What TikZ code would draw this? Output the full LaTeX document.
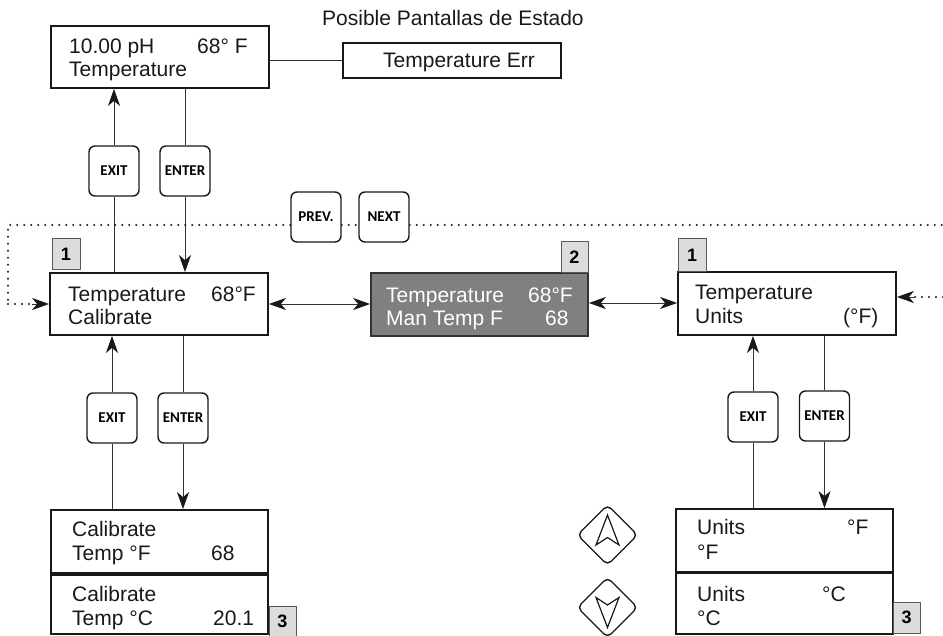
\documentclass[tikz,border=0pt]{standalone}
\usepackage{fontspec}
\setmainfont{Liberation Sans}
\newfontfamily\keyfont{Carlito}
\usetikzlibrary{arrows.meta,backgrounds}
\definecolor{darkfill}{HTML}{808080}
\definecolor{badgefill}{HTML}{DCDCDC}
\begin{document}
\begin{tikzpicture}[x=1pt,y=-1pt,
  scr/.style={draw=black!90, line width=1.8pt, fill=white, inner sep=0pt, minimum width=218pt, minimum height=62pt},
  darkscr/.style={scr, fill=darkfill, draw=black!80},
  badge/.style={draw=black!65, line width=1pt, fill=badgefill, inner sep=0pt, minimum width=27pt, minimum height=31pt, font=\bfseries\fontsize{18}{18}\selectfont},
  key/.style={draw=black!90, rounded corners=6pt, fill=white, minimum width=50pt, minimum height=50pt, line width=1.4pt, inner sep=0pt, font=\keyfont\bfseries\fontsize{15}{15}\selectfont},
  txt/.style={anchor=base west, inner sep=0pt, font=\fontsize{21}{23}\selectfont, text=black!90},
  wtxt/.style={txt, text=white},
  conn/.style={draw=black!80, line width=0.9pt},
  tipstyle/.style={Stealth[length=17pt,width=12pt,inset=5pt,color=black!90]},
  arr/.style={conn, -{Stealth[length=17pt,width=12pt,inset=5pt,color=black!90]}},
  darr/.style={conn, {Stealth[length=17pt,width=12pt,inset=5pt,color=black!90]}-{Stealth[length=17pt,width=12pt,inset=5pt,color=black!90]}},
  dotline/.style={draw=black!90, line width=2.2pt, dash pattern=on 0pt off 7pt, line cap=round},
  dia/.style={draw=black!90, line width=1.4pt, rounded corners=5pt},
  inarrow/.style={draw=black!90, line width=1.2pt, line join=miter}
]
\useasboundingbox (0,0) rectangle (943,636);

% title
\node[txt] (title) at (322,26) {Posible Pantallas de Estado};

% screens
\node[scr] (top) at (160,57) {};
\node[scr, minimum height=35pt] (err) at (452,60.5) {};
\node[scr] (calib) at (159,304) {};
\node[darkscr, minimum width=217pt, minimum height=63pt] (man) at (479.5,304.5) {};
\node[scr, minimum height=63pt] (units) at (787,303.5) {};
\node[scr, minimum width=217pt, minimum height=63pt] (calF) at (159.5,541.5) {};
\node[scr, minimum width=217pt, minimum height=59pt] (calC) at (159.5,604.5) {};
\node[scr, minimum width=217pt, minimum height=63pt] (unF) at (784.5,540.5) {};
\node[scr, minimum width=217pt, minimum height=61pt] (unC) at (784.5,603.5) {};

% badges
\node[badge, minimum width=28pt] (b1L) at (66,254.5) {1};
\node[badge] (b2) at (574.5,257.5) {2};
\node[badge, minimum width=28pt, minimum height=33pt] (b1R) at (692,255.5) {1};
\node[badge, minimum height=30pt] (b3L) at (282.5,621) {3};
\node[badge] (b3R) at (906.5,617.5) {3};

% keys
\node[key] (exitT) at (114,171) {EXIT};
\node[key] (enterT) at (185,171) {ENTER};
\node[key] (prev) at (316,217) {PREV.};
\node[key] (next) at (384,217) {NEXT};
\node[key] (exitB) at (112,418) {EXIT};
\node[key] (enterB) at (183,418) {ENTER};
\node[key] (exitR) at (753,417) {EXIT};
\node[key] (enterR) at (824.5,416) {ENTER};

% texts
\node[txt] (t1) at (69,54) {10.00 pH};
\node[txt] (t2) at (197,54) {68° F};
\node[txt] (t3) at (69,77) {Temperature};
\node[txt] (t4) at (383,68) {Temperature Err};
\node[txt] (t5) at (68,302) {Temperature};
\node[txt] (t6) at (211,302) {68°F};
\node[txt] (t7) at (68,325) {Calibrate};
\node[wtxt] (t8) at (386,303) {Temperature};
\node[wtxt] (t9) at (528,303) {68°F};
\node[wtxt] (t10) at (386,326) {Man Temp F};
\node[wtxt] (t11) at (545,326) {68};
\node[txt] (t12) at (695,300) {Temperature};
\node[txt] (t13) at (695,324) {Units};
\node[txt] (t14) at (843,324) {(°F)};
\node[txt] (t15) at (72,536) {Calibrate};
\node[txt] (t16) at (72,560) {Temp °F};
\node[txt] (t17) at (211,560) {68};
\node[txt] (t18) at (72,601) {Calibrate};
\node[txt] (t19) at (72,625) {Temp °C};
\node[txt] (t20) at (213,625) {20.1};
\node[txt] (t21) at (697,534) {Units};
\node[txt] (t22) at (847,534) {°F};
\node[txt] (t23) at (697,559) {°F};
\node[txt] (t24) at (697,601) {Units};
\node[txt] (t25) at (822,601) {°C};
\node[txt] (t26) at (697,625) {°C};

% free ends of the dotted loop
\coordinate (dl) at (8,225);
\coordinate (dr) at (943,225);
\coordinate (dr2) at (943,297);

% up / down diamonds
\draw[dia] (607.5,505) -- (637.5,535) -- (607.5,565) -- (577.5,535) -- cycle;
\draw[inarrow] (607.5,515) -- (619,545) -- (607.5,537.5) -- (596,545) -- cycle;
\draw[dia] (607.5,577.5) -- (637.5,607.5) -- (607.5,637.5) -- (577.5,607.5) -- cycle;
\draw[inarrow] (607.5,627.5) -- (619,597.5) -- (607.5,605) -- (596,597.5) -- cycle;

\begin{scope}[on background layer]
  % top box to error box
  \draw[conn] (err.west -| top.east) -- (err.west);
  % top EXIT / ENTER
  \draw[conn] (calib.north -| exitT.center) -- (exitT.south);
  \draw[arr] (exitT.north) -- (top.south -| exitT.center);
  \draw[conn] ([yshift=6pt]top.south -| enterT.center) -- (enterT.north);
  \draw[arr] (enterT.south) -- (calib.north -| enterT.center);
  % lower-left EXIT / ENTER
  \draw[conn] (calF.north -| exitB.center) -- (exitB.south);
  \draw[arr] (exitB.north) -- (calib.south -| exitB.center);
  \draw[conn] ([yshift=4pt]calib.south -| enterB.center) -- (enterB.north);
  \draw[arr] (enterB.south) -- (calF.north -| enterB.center);
  % right EXIT / ENTER
  \draw[conn] (unF.north -| exitR.center) -- (exitR.south);
  \draw[arr] (exitR.north) -- (units.south -| exitR.center);
  \draw[conn] ([yshift=4pt]units.south -| enterR.center) -- (enterR.north);
  \draw[arr] (enterR.south) -- (unF.north -| enterR.center);
  % horizontal double arrows
  \draw[darr] (calib.east) -- (man.west |- calib.east);
  \draw[darr] ([yshift=1.5pt]man.east) -- ([yshift=1.5pt]units.west |- man.east);
  % dotted PREV / NEXT loop
  \draw[dotline] (prev.west |- dl) -- (dl) -- (dl |- calib.west);
  \draw[dotline] (dl |- calib.west) -- ([xshift=-16pt]calib.west);
  \draw[arr] ([xshift=-17pt]calib.west) -- (calib.west);
  \draw[dotline] (prev.east |- dl) -- (next.west |- dl);
  \draw[dotline] (next.east |- dl) -- (dr);
  \draw[dotline] (dr2) -- ([xshift=16pt]units.east |- dr2);
  \draw[arr] ([xshift=17pt]units.east |- dr2) -- (units.east |- dr2);
\end{scope}
\end{tikzpicture}
\end{document}
